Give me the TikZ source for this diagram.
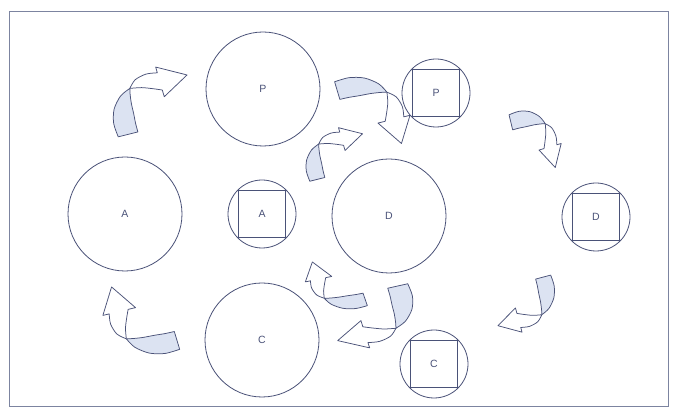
\documentclass[tikz,border=0pt]{standalone}
\usepackage{fontspec}
\newfontfamily\labfont{Liberation Sans}
\definecolor{inkc}{HTML}{4A5278}
\definecolor{framec}{HTML}{7C84A0}
\definecolor{shadeblue}{HTML}{DCE3F2}
\tikzset{
  bigc/.style={circle, draw=inkc, line width=0.8pt, minimum size=114pt, inner sep=0pt, font=\labfont\fontsize{10.5}{12}\selectfont, text=inkc},
  smallc/.style={circle, draw=inkc, line width=0.8pt, minimum size=68pt, inner sep=0pt, font=\labfont\fontsize{10.5}{12}\selectfont, text=inkc},
  sqbox/.style={draw=inkc, line width=0.7pt},
  ribbon/.style={draw=inkc, line width=0.75pt, line join=round}
}
\newcommand{\myribbon}[5]{%
  \begin{scope}[shift={(#1,#2)}, xscale=#3, yscale=#4, rotate=#5]
    \filldraw[ribbon, fill=shadeblue] plot[smooth] coordinates {(195:52) (180:54.5) (165:56) (150:55.5) (138:53)}
      -- plot[smooth] coordinates {(138:53) (143:49) (152:43) (165:37) (180:34) (195:33)} -- cycle;
    \filldraw[ribbon, fill=white] plot[smooth] coordinates {(138:53) (128:56) (116:55.5) (105:53)}
      -- (105:59) -- (74:51) -- (105:28)
      -- plot[smooth] coordinates {(105:35) (116:39) (128:46) (138:53)} -- cycle;
  \end{scope}}
\begin{document}
\begin{tikzpicture}[x=1pt,y=1pt]
\useasboundingbox (0,0) rectangle (673,410);
\fill[white] (0,0) rectangle (673,410);
\draw[framec, line width=0.8pt] (9,4) rectangle (668,399);
% big circles
\node[bigc] (P) at (263,321) {P};
\node[bigc] (A) at (125,196) {A};
\node[bigc] (D) at (389,194) {D};
\node[bigc] (C) at (262,70) {C};
% small circles with squares
\node[smallc] (sA) at (262,196) {A};
\node[smallc] (sP) at (436,317) {P};
\node[smallc] (sD) at (596,193) {D};
\node[smallc] (sC) at (434,46) {C};
\foreach \n in {sA,sP,sD,sC}{
  \draw[sqbox] ([shift={(-23.5,-23.5)}]\n.center) rectangle ([shift={(23.5,23.5)}]\n.center);
}
% curved ribbon arrows
\myribbon{172}{286.5}{1.07}{0.99}{0}
\myribbon{349}{280}{1.07}{0.96}{-90}
\myribbon{351}{239}{0.82}{0.76}{0}
\myribbon{519}{254}{0.74}{0.82}{-90}
\myribbon{509.5}{124}{0.82}{0.81}{180}
\myribbon{165}{109.4}{1.09}{0.97}{90}
\myribbon{355.5}{138.5}{0.88}{0.68}{90}
\myribbon{353}{114}{1.09}{0.91}{180}
\end{tikzpicture}
\end{document}
